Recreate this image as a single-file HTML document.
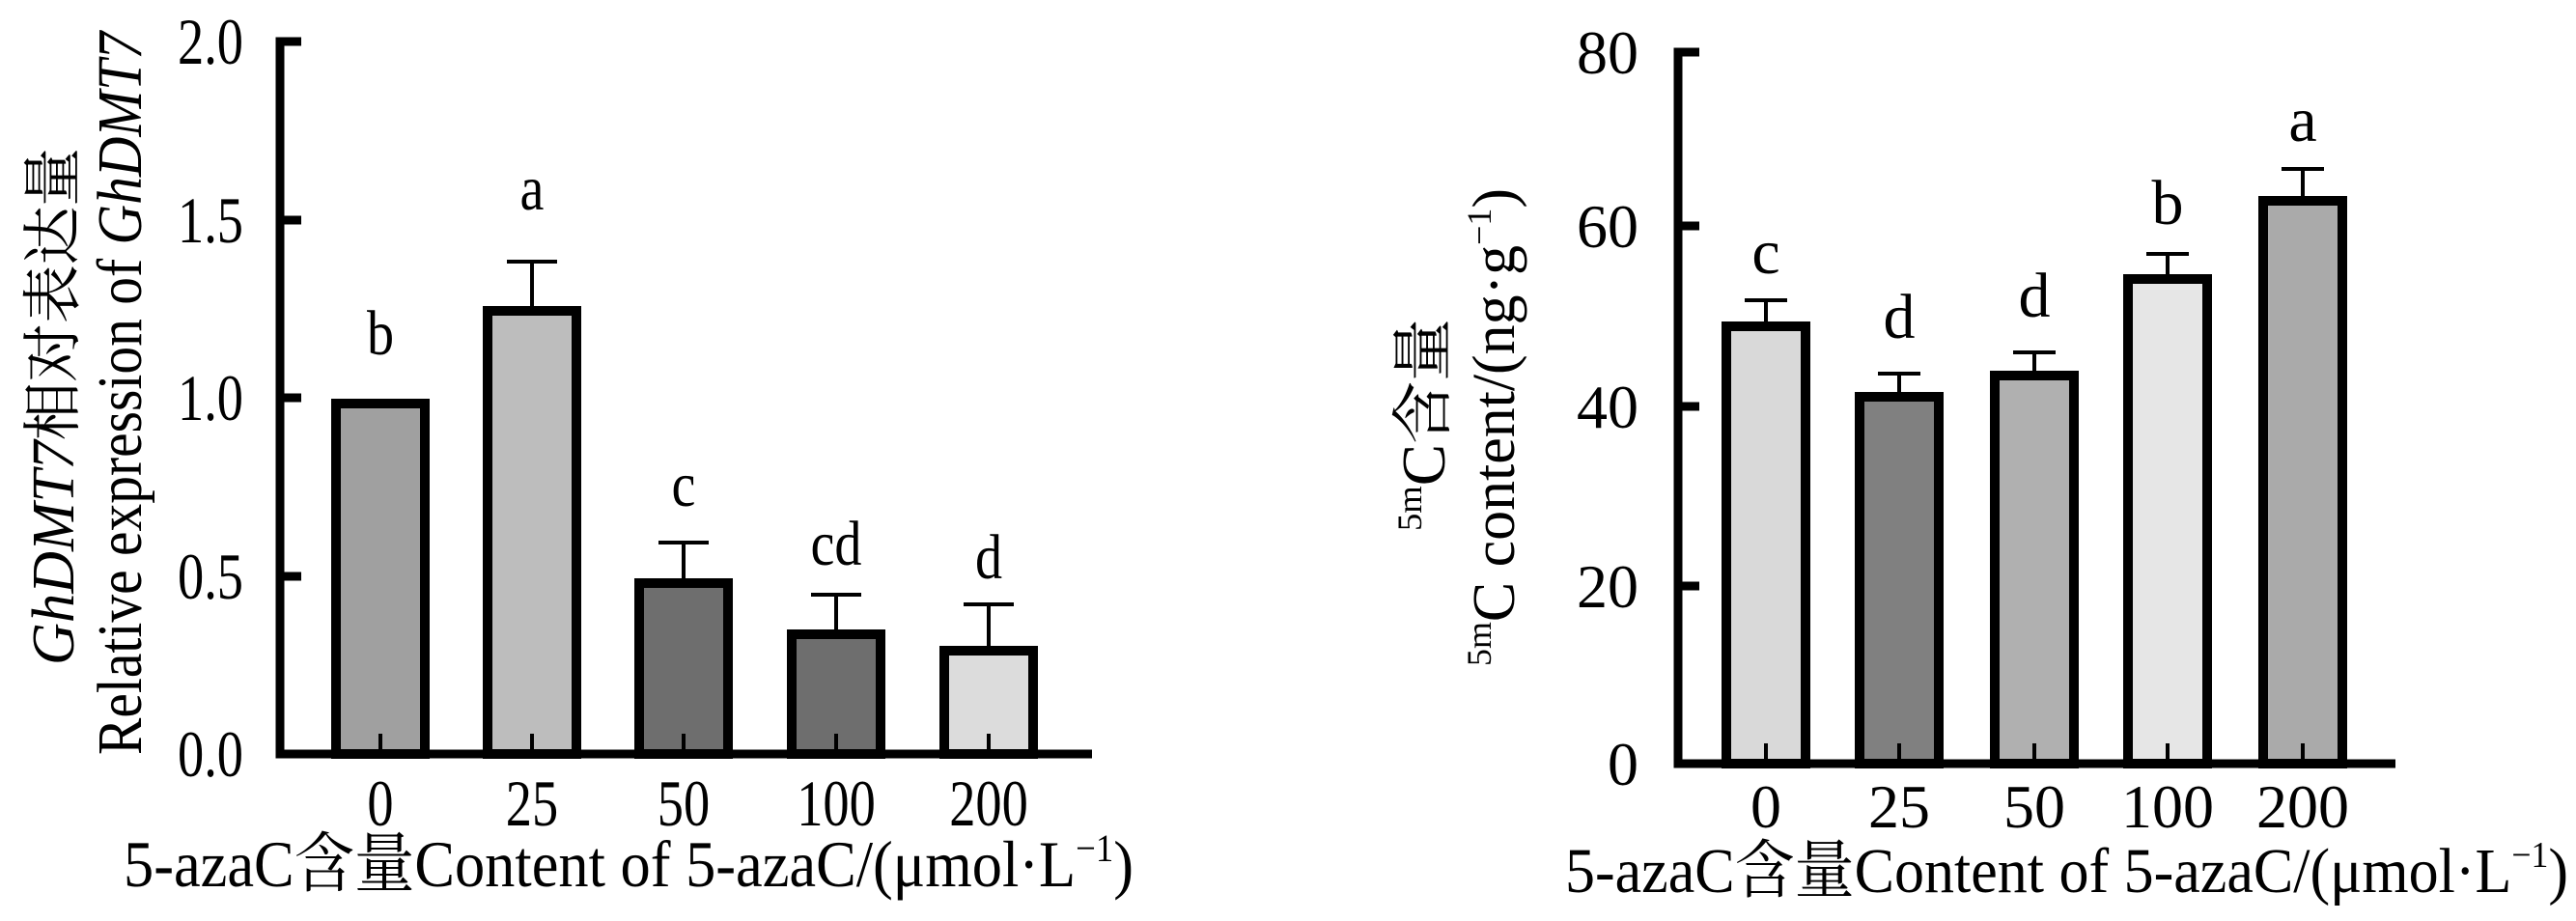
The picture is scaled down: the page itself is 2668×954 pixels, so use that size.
<!DOCTYPE html>
<html><head><meta charset="utf-8"><style>
html,body{margin:0;padding:0;background:#fff;}
svg{display:block;}
text{font-family:"Liberation Serif","Noto Serif CJK SC",serif;fill:#000;}
</style></head><body>
<svg width="2668" height="954" viewBox="0 0 2668 954" xmlns="http://www.w3.org/2000/svg">
<!-- LEFT CHART -->
<g>
  <g stroke="#000" stroke-width="10">
    <rect x="348" y="418" width="92" height="363" fill="#a0a0a0"/>
    <rect x="505" y="322" width="92" height="459" fill="#bdbdbd"/>
    <rect x="662" y="604" width="92" height="177" fill="#6e6e6e"/>
    <rect x="820" y="657" width="92" height="124" fill="#6e6e6e"/>
    <rect x="978" y="674" width="92" height="107" fill="#dcdcdc"/>
  </g>
  <g stroke="#000" stroke-width="4">
    <line x1="551" y1="271" x2="551" y2="318"/><line x1="525" y1="271" x2="577" y2="271"/>
    <line x1="708" y1="562" x2="708" y2="600"/><line x1="682" y1="562" x2="734" y2="562"/>
    <line x1="866" y1="616" x2="866" y2="653"/><line x1="840" y1="616" x2="892" y2="616"/>
    <line x1="1024" y1="626" x2="1024" y2="670"/><line x1="998" y1="626" x2="1050" y2="626"/>
  </g>
  <g stroke="#000" stroke-width="4">
    <line x1="394" y1="760" x2="394" y2="781"/>
    <line x1="551" y1="760" x2="551" y2="781"/>
    <line x1="708" y1="760" x2="708" y2="781"/>
    <line x1="866" y1="760" x2="866" y2="781"/>
    <line x1="1024" y1="760" x2="1024" y2="781"/>
  </g>
  <g stroke="#000" stroke-width="9" fill="none">
    <polyline points="312,43 290,43 290,781 1131,781"/>
    <line x1="290" y1="228" x2="312" y2="228"/>
    <line x1="290" y1="412" x2="312" y2="412"/>
    <line x1="290" y1="597" x2="312" y2="597"/>
  </g>
  <g font-size="68" text-anchor="end">
    <text transform="translate(252,66) scale(0.8,1)">2.0</text>
    <text transform="translate(252,251) scale(0.8,1)">1.5</text>
    <text transform="translate(252,435) scale(0.8,1)">1.0</text>
    <text transform="translate(252,620) scale(0.8,1)">0.5</text>
    <text transform="translate(252,804) scale(0.8,1)">0.0</text>
  </g>
  <g font-size="68" text-anchor="middle">
    <text transform="translate(394,855) scale(0.8,1)">0</text>
    <text transform="translate(551,855) scale(0.8,1)">25</text>
    <text transform="translate(708,855) scale(0.8,1)">50</text>
    <text transform="translate(866,855) scale(0.8,1)">100</text>
    <text transform="translate(1024,855) scale(0.8,1)">200</text>
  </g>
  <g font-size="66" text-anchor="middle">
    <text transform="translate(394,367) scale(0.85,1)">b</text>
    <text transform="translate(551,217) scale(0.85,1)">a</text>
    <text transform="translate(708,524) scale(0.85,1)">c</text>
    <text transform="translate(866,585) scale(0.85,1)">cd</text>
    <text transform="translate(1024,599) scale(0.85,1)">d</text>
  </g>
  <text x="128" y="918" font-size="68" textLength="1046" lengthAdjust="spacingAndGlyphs">5-azaC含量Content of 5-azaC/(μmol·L<tspan font-size="40" dy="-26">−1</tspan><tspan dy="26">)</tspan></text>
  <text transform="translate(146,782) rotate(-90)" font-size="66" textLength="749" lengthAdjust="spacingAndGlyphs">Relative expression of <tspan font-style="italic">GhDMT7</tspan></text>
  <text transform="translate(76,689) rotate(-90)" font-size="62" textLength="536" lengthAdjust="spacingAndGlyphs"><tspan font-style="italic">GhDMT7</tspan>相对表达量</text>
</g>

<!-- RIGHT CHART -->
<g>
  <g stroke="#000" stroke-width="10">
    <rect x="1788" y="338" width="82" height="453" fill="#d9d9d9"/>
    <rect x="1926" y="411" width="82" height="380" fill="#808080"/>
    <rect x="2066" y="389" width="82" height="402" fill="#b0b0b0"/>
    <rect x="2204" y="289" width="82" height="502" fill="#e6e6e6"/>
    <rect x="2344" y="208" width="82" height="583" fill="#aaaaaa"/>
  </g>
  <g stroke="#000" stroke-width="4">
    <line x1="1829" y1="311" x2="1829" y2="334"/><line x1="1807" y1="311" x2="1851" y2="311"/>
    <line x1="1967" y1="387" x2="1967" y2="407"/><line x1="1945" y1="387" x2="1989" y2="387"/>
    <line x1="2107" y1="365" x2="2107" y2="385"/><line x1="2085" y1="365" x2="2129" y2="365"/>
    <line x1="2245" y1="263" x2="2245" y2="285"/><line x1="2223" y1="263" x2="2267" y2="263"/>
    <line x1="2385" y1="175" x2="2385" y2="204"/><line x1="2363" y1="175" x2="2407" y2="175"/>
  </g>
  <g stroke="#000" stroke-width="4">
    <line x1="1829" y1="770" x2="1829" y2="791"/>
    <line x1="1967" y1="770" x2="1967" y2="791"/>
    <line x1="2107" y1="770" x2="2107" y2="791"/>
    <line x1="2245" y1="770" x2="2245" y2="791"/>
    <line x1="2385" y1="770" x2="2385" y2="791"/>
  </g>
  <g stroke="#000" stroke-width="9" fill="none">
    <polyline points="1760,54 1738,54 1738,791 2481,791"/>
    <line x1="1738" y1="234" x2="1760" y2="234"/>
    <line x1="1738" y1="421" x2="1760" y2="421"/>
    <line x1="1738" y1="607" x2="1760" y2="607"/>
  </g>
  <g font-size="64" text-anchor="end">
    <text x="1697" y="76">80</text>
    <text x="1697" y="256">60</text>
    <text x="1697" y="443">40</text>
    <text x="1697" y="629">20</text>
    <text x="1697" y="813">0</text>
  </g>
  <g font-size="64" text-anchor="middle">
    <text x="1829" y="857">0</text>
    <text x="1967" y="857">25</text>
    <text x="2107" y="857">50</text>
    <text x="2245" y="857">100</text>
    <text x="2385" y="857">200</text>
  </g>
  <g font-size="66" text-anchor="middle">
    <text x="1829" y="283">c</text>
    <text x="1967" y="350">d</text>
    <text x="2107" y="328">d</text>
    <text x="2245" y="232">b</text>
    <text x="2385" y="146">a</text>
  </g>
  <text x="1621" y="924" font-size="66" textLength="1039" lengthAdjust="spacingAndGlyphs">5-azaC含量Content of 5-azaC/(μmol·L<tspan font-size="38" dy="-26">−1</tspan><tspan dy="26">)</tspan></text>
  <text transform="translate(1568,690) rotate(-90)" font-size="62" textLength="495" lengthAdjust="spacingAndGlyphs"><tspan font-size="36" dy="-24">5m</tspan><tspan dy="24">C content/(ng·g</tspan><tspan font-size="36" dy="-24">−1</tspan><tspan dy="24">)</tspan></text>
  <text transform="translate(1496,550) rotate(-90)" font-size="64" textLength="220" lengthAdjust="spacingAndGlyphs"><tspan font-size="36" dy="-24">5m</tspan><tspan dy="24">C含量</tspan></text>
</g>
</svg>
</body></html>
